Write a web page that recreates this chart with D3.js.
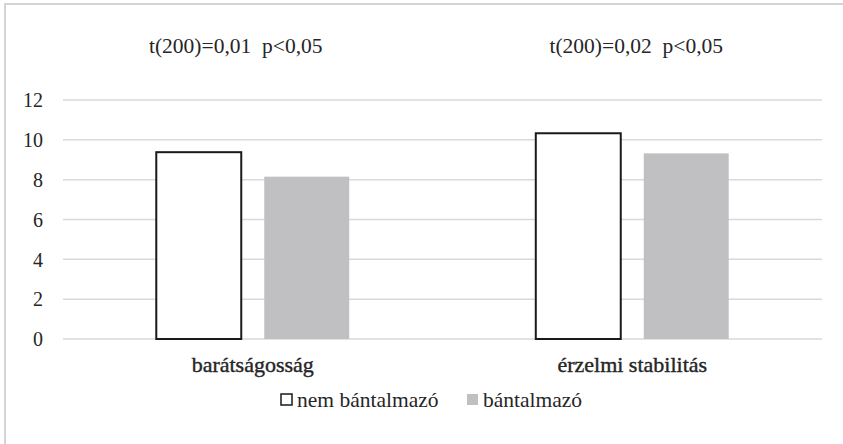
<html><head><meta charset="utf-8"><script src="https://d3js.org/d3.v7.min.js"></script></head>
<body style="margin:0">
<svg id="chart" width="843" height="444"></svg>
<script>
// chart data
var categories = ["barátságosság", "érzelmi stabilitás"];
var series = ["nem bántalmazó", "bántalmazó"];
var nemBantalmazo = [9.38, 10.33];
var bantalmazo = [8.15, 9.32];
var tests = ["t(200)=0,01  p<0,05", "t(200)=0,02  p<0,05"];
var yTicks = [0, 2, 4, 6, 8, 10, 12];

var width = 843, height = 444;
var margin = {top: 100, right: 21, bottom: 105, left: 63};
var ink = "#262626";
var serif = "'Liberation Serif'";

var svg = d3.select("#chart");

// outer frame (only top and left visible in the crop)
svg.append("rect")
   .attr("x", 5).attr("y", 4)
   .attr("width", width + 10).attr("height", height + 10)
   .style("fill", "none")
   .style("stroke", "#d4d4d4")
   .style("stroke-width", 2);

var x0 = d3.scaleBand().domain(categories).range([margin.left, width - margin.right]);
var x1 = d3.scaleBand().domain(series).range([0, x0.bandwidth()])
           .paddingInner(0.213).paddingOuter(0.864);
var y = d3.scaleLinear().domain([0, 12]).range([height - margin.bottom, margin.top]);

// gridlines
svg.append("g")
   .selectAll("line")
   .data(yTicks)
   .enter()
   .append("line")
   .attr("x1", margin.left)
   .attr("x2", width - margin.right)
   .attr("y1", function(d) { return y(d); })
   .attr("y2", function(d) { return y(d); })
   .style("stroke", "#d9d9d9")
   .style("stroke-width", 1.5);

// y axis labels
var yAxis = svg.append("g")
   .attr("transform", "translate(" + (margin.left - 20) + ",0)")
   .call(d3.axisLeft(y).tickValues(yTicks).tickSize(0).tickPadding(0));
yAxis.select(".domain").remove();
yAxis.attr("font-family", null).attr("font-size", null);
yAxis.selectAll("text")
   .style("font-family", serif)
   .style("font-size", "20px")
   .style("fill", ink)
   .attr("dy", "0.34em");

// bars
var rows = categories.map(function(c, i) {
  return {cat: c, vals: [{s: series[0], v: nemBantalmazo[i]}, {s: series[1], v: bantalmazo[i]}]};
});

var groups = svg.append("g")
   .selectAll("g")
   .data(rows)
   .enter()
   .append("g")
   .attr("transform", function(d) { return "translate(" + x0(d.cat) + ",0)"; });

groups.selectAll("rect")
   .data(function(d) { return d.vals; })
   .enter()
   .append("rect")
   .attr("x", function(d) { return x1(d.s); })
   .attr("y", function(d) { return y(d.v); })
   .attr("width", x1.bandwidth())
   .attr("height", function(d) { return y(0) - y(d.v); })
   .style("fill", function(d) { return d.s == series[0] ? "#ffffff" : "#c0c0c3"; })
   .style("stroke", function(d) { return d.s == series[0] ? "#1a1a1a" : "none"; })
   .style("stroke-width", 2);

// test annotations above each group
var testOffset = [-17, 4];
svg.append("g")
   .selectAll("text")
   .data(tests)
   .enter()
   .append("text")
   .attr("x", function(d, i) { return x0(categories[i]) + x0.bandwidth() / 2 + testOffset[i]; })
   .attr("y", 53)
   .attr("text-anchor", "middle")
   .style("font-family", serif)
   .style("font-size", "21.5px")
   .style("fill", ink)
   .style("white-space", "pre")
   .text(function(d) { return d; });

// category labels
svg.append("g")
   .selectAll("text")
   .data(categories)
   .enter()
   .append("text")
   .attr("x", function(d) { return x0(d) + x0.bandwidth() / 2; })
   .attr("y", 372)
   .attr("text-anchor", "middle")
   .style("font-family", serif)
   .style("font-size", "22px")
   .style("fill", ink)
   .style("stroke", ink)
   .style("stroke-width", 0.4)
   .text(function(d) { return d; });

// legend
var legendX = [281, 467];
var legend = svg.append("g")
   .selectAll("g")
   .data(series)
   .enter()
   .append("g")
   .attr("transform", function(d, i) { return "translate(" + legendX[i] + ",394)"; });

legend.append("rect")
   .attr("width", 11).attr("height", 11)
   .style("fill", function(d, i) { return i == 0 ? "#ffffff" : "#c0c0c3"; })
   .style("stroke", function(d, i) { return i == 0 ? "#1a1a1a" : "none"; })
   .style("stroke-width", 1.5);

legend.append("text")
   .attr("x", 16).attr("y", 13)
   .style("font-family", serif)
   .style("font-size", "21.5px")
   .style("fill", ink)
   .text(function(d) { return d; });
</script>
</body>
</html>
